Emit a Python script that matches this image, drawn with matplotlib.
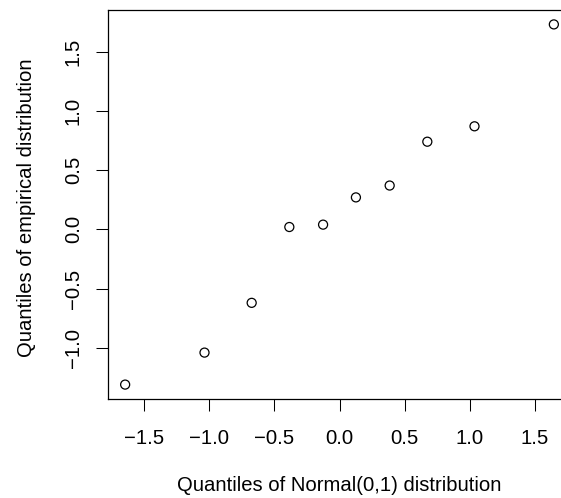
import matplotlib
matplotlib.use("Agg")
import matplotlib.pyplot as plt
import numpy as np

plt.rcParams['font.family'] = ['Liberation Sans', 'DejaVu Sans']

theoretical = [-1.645, -1.036, -0.674, -0.385, -0.126, 0.126, 0.385, 0.674, 1.036, 1.645]
empirical = [-1.31, -1.04, -0.62, 0.02, 0.04, 0.27, 0.37, 0.74, 0.87, 1.73]
xticks = [-1.5, -1.0, -0.5, 0.0, 0.5, 1.0, 1.5]
yticks = [-1.0, -0.5, 0.0, 0.5, 1.0, 1.5]
xlabel = "Quantiles of Normal(0,1) distribution"
ylabel = "Quantiles of empirical distribution"

W, H = 561, 498
FS = 14.6
fig = plt.figure(figsize=(W / 100, H / 100), dpi=100)
left, right, top, bottom = 108, 571, 10, 399
ax = fig.add_axes([left / W, 1 - bottom / H, (right - left) / W, (bottom - top) / H])

ax.scatter(theoretical, empirical, s=6.5 ** 2, facecolors='none', edgecolors='black', linewidths=0.9)

def ext(v):
    lo, hi = min(v), max(v)
    r = hi - lo
    return lo - 0.04 * r, hi + 0.04 * r

ax.set_xlim(*ext(theoretical))
ax.set_ylim(*ext(empirical))
ax.set_xticks(xticks)
ax.set_yticks(yticks)
ax.set_xticklabels([f"{t:.1f}".replace('-', '\u2212') for t in xticks])
ax.set_yticklabels([f"{t:.1f}".replace('-', '\u2212') for t in yticks])
ax.tick_params(axis='both', length=8.6, width=0.75, labelsize=FS)
ax.tick_params(axis='x', pad=13)
ax.tick_params(axis='y', pad=9.5)
for lab in ax.get_yticklabels():
    lab.set_rotation(90)
    lab.set_va('center')
for s in ax.spines.values():
    s.set_linewidth(0.9)
ax.spines['right'].set_visible(False)

fig.text(339 / W, 1 - 485.5 / H, xlabel, ha='center', va='center', fontsize=FS)
fig.text(27 / W, 1 - 207.5 / H, ylabel, ha='center', va='center', rotation=90, fontsize=FS)

fig.savefig("out.png", dpi=100)
